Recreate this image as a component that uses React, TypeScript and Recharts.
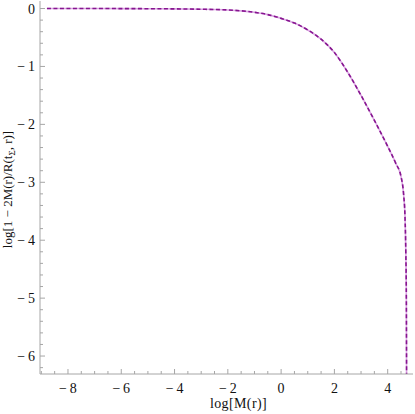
import { Line, LineChart, XAxis, YAxis } from 'recharts';

// log[M(r)] values
const logM = [
  -8.79, -7, -6, -5, -4, -3, -2, -1.5, -1, -0.5, 0, 0.5, 1, 1.5, 2, 2.5, 3, 3.5, 4, 4.3, 4.5, 4.6,
  4.65, 4.68, 4.7, 4.71,
];
// log[1 - 2M(r)/R(t_Sigma, r)]
const logRatio = [
  0, 0, -0.001, -0.003, -0.006, -0.012, -0.025, -0.04, -0.065, -0.105, -0.17, -0.25, -0.37, -0.53,
  -0.76, -1.1, -1.5, -1.93, -2.38, -2.67, -2.9, -3.22, -3.6, -4.2, -5, -6.6,
];

const xMajor = [-8, -6, -4, -2, 0, 2, 4];
const yMajor = [0, -1, -2, -3, -4, -5, -6];
const xDomain: [number, number] = [-9.05, 4.95];
const yDomain: [number, number] = [-6.31, 0.13];

const FRAME = '#a6a6a6';
const FONT = '"Liberation Serif", "Times New Roman", serif';

const data = logM.map((x, i) => ({ x, y: logRatio[i] }));

// minor ticks every 0.5 on x, 0.2 on y
const xTicks: number[] = [];
for (let k = -18; k <= 9; k++) xTicks.push(k * 0.5);
const yTicks: number[] = [];
for (let k = -31; k <= 0; k++) yTicks.push(Math.round(k * 2) / 10);

const fmt = (v: number) => (v < 0 ? `\u2212\u2009${Math.abs(v)}` : `${v}`);

const makeTick = (side: 'bottom' | 'top' | 'left' | 'right') => (props: any) => {
  const { x, y, payload } = props;
  const v = payload.value;
  const major = side === 'bottom' || side === 'top' ? xMajor.includes(v) : yMajor.includes(v);
  const len = major ? 5 : 3;
  let line;
  if (side === 'bottom') line = <line x1={x} x2={x} y1={y} y2={y - len} stroke={FRAME} />;
  else if (side === 'top') line = <line x1={x} x2={x} y1={y} y2={y + len} stroke={FRAME} />;
  else if (side === 'left') line = <line x1={x} x2={x + len} y1={y} y2={y} stroke={FRAME} />;
  else line = <line x1={x} x2={x - len} y1={y} y2={y} stroke={FRAME} />;
  return (
    <g>
      {line}
      {major && side === 'bottom' && (
        <text x={x} y={y + 19} textAnchor="middle" fontFamily={FONT} fontSize={14} fill="#111">
          {fmt(v)}
        </text>
      )}
      {major && side === 'left' && (
        <text x={x - 5} y={y + 5} textAnchor="end" fontFamily={FONT} fontSize={14} fill="#111">
          {fmt(v)}
        </text>
      )}
    </g>
  );
};

const XLabel = (props: any) => {
  const { x, y, width } = props.viewBox;
  return (
    <text x={x + width / 2 + 12} y={y + 34} textAnchor="middle" fontFamily={FONT} fontSize={14} fill="#111" letterSpacing={0.4}>
      log[M(r)]
    </text>
  );
};

const YLabel = (props: any) => {
  const { y, height } = props.viewBox;
  const cx = 12;
  const cy = y + height / 2 + 2;
  return (
    <text
      x={cx}
      y={cy}
      transform={`rotate(-90 ${cx} ${cy})`}
      textAnchor="middle"
      fontFamily={FONT}
      fontSize={13}
      fill="#111"
    >
      log[1 − 2M(r)/R(t
      <tspan dy={3} fontSize={9}>Σ</tspan>
      <tspan dy={-3}>, r)]</tspan>
    </text>
  );
};

export default function App() {
  return (
    <div style={{ position: 'absolute', left: 0, top: 0, background: '#fff' }}>
      <LineChart width={415} height={414} data={data} margin={{ top: 1, right: 2, bottom: 0, left: 0 }}>
        <XAxis
          dataKey="x"
          type="number"
          domain={xDomain}
          allowDataOverflow
          ticks={xTicks}
          interval={0}
          height={40}
          tickSize={0}
          tickMargin={0}
          axisLine={{ stroke: FRAME }}
          tick={makeTick('bottom')}
          label={<XLabel />}
        />
        <XAxis
          xAxisId="top"
          dataKey="x"
          orientation="top"
          type="number"
          domain={xDomain}
          allowDataOverflow
          ticks={xTicks}
          interval={0}
          height={0}
          tickSize={0}
          tickMargin={0}
          axisLine={{ stroke: FRAME }}
          tick={makeTick('top')}
        />
        <YAxis
          type="number"
          domain={yDomain}
          allowDataOverflow
          ticks={yTicks}
          interval={0}
          width={40}
          tickSize={0}
          tickMargin={0}
          axisLine={{ stroke: FRAME }}
          tick={makeTick('left')}
          label={<YLabel />}
        />
        <YAxis
          yAxisId="right"
          orientation="right"
          type="number"
          domain={yDomain}
          allowDataOverflow
          ticks={yTicks}
          interval={0}
          width={0}
          tickSize={0}
          tickMargin={0}
          axisLine={{ stroke: FRAME }}
          tick={makeTick('right')}
        />
        <Line
          xAxisId="top"
          yAxisId="right"
          dataKey="y"
          type="monotone"
          stroke="#dca6e4"
          strokeWidth={1.6}
          dot={false}
          isAnimationActive={false}
        />
        <Line
          dataKey="y"
          type="monotone"
          stroke="#86158f"
          strokeWidth={1.6}
          strokeDasharray="4 2.5"
          dot={false}
          isAnimationActive={false}
        />
      </LineChart>
    </div>
  );
}
